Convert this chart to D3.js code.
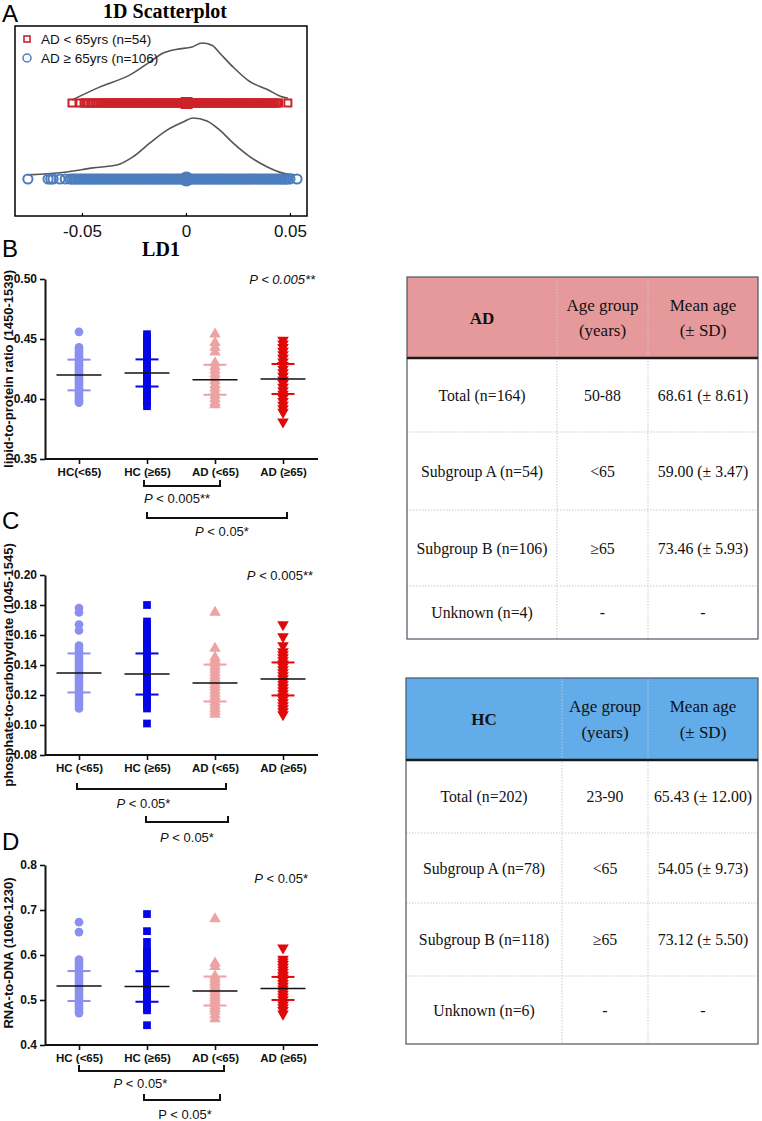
<!DOCTYPE html>
<html><head><meta charset="utf-8">
<script src="https://cdn.jsdelivr.net/npm/d3@7"></script>
<style>body{margin:0;background:#fff}svg{display:block}</style>
</head><body>
<svg id="c" width="762" height="1121"></svg>
<script>
// ---------------- DATA ----------------
// Panel A: 1D scatterplot of LD1
const ldTicks = [-0.05, 0, 0.05];
const adYoungLD = [-0.0548,-0.0510,-0.0490,-0.0482,-0.0470,-0.0458,-0.0447,-0.0436,-0.0424,-0.0414,
  -0.0405,-0.0396,-0.0387,-0.0378,-0.0369,-0.0360,-0.0351,-0.0342,-0.0333,-0.0324,-0.0315,-0.0306,-0.0297,-0.0288,-0.0279,-0.0270,-0.0261,-0.0252,-0.0243,-0.0234,-0.0225,-0.0216,-0.0207,-0.0198,-0.0189,-0.0180,-0.0171,-0.0162,-0.0153,-0.0144,-0.0135,-0.0126,-0.0117,-0.0108,-0.0099,-0.0090,-0.0081,-0.0072,-0.0063,-0.0054,-0.0045,-0.0036,-0.0027,-0.0018,-0.0009,0.0000,0.0009,0.0018,0.0027,0.0036,0.0045,0.0054,0.0063,0.0072,0.0081,0.0090,0.0099,0.0108,0.0117,0.0126,0.0135,0.0144,0.0153,0.0162,0.0171,0.0180,0.0189,0.0198,0.0207,0.0216,0.0225,0.0234,0.0243,0.0252,0.0261,0.0270,0.0279,0.0288,0.0297,0.0306,0.0315,0.0324,0.0333,0.0342,0.0351,0.0360,0.0369,0.0378,
  0.0387,0.0396,0.0405,0.0416,0.0426,0.0436,0.0445,0.0490];
const adOldLD = [-0.0760,-0.0663,-0.0650,-0.0639,-0.0606,-0.0580,
  -0.0557,-0.0548,-0.0539,-0.0531,-0.0522,-0.0513,-0.0504,-0.0495,-0.0487,-0.0478,-0.0469,-0.0460,-0.0451,-0.0443,-0.0434,-0.0425,-0.0416,-0.0407,-0.0399,-0.0390,-0.0381,-0.0372,-0.0363,-0.0355,-0.0346,-0.0337,-0.0328,-0.0319,-0.0311,-0.0302,-0.0293,-0.0284,-0.0275,-0.0267,-0.0258,-0.0249,-0.0240,-0.0231,-0.0223,-0.0214,-0.0205,-0.0196,-0.0187,-0.0179,-0.0170,-0.0161,-0.0152,-0.0143,-0.0135,-0.0126,-0.0117,-0.0108,-0.0099,-0.0091,-0.0082,-0.0073,-0.0064,-0.0055,-0.0047,-0.0038,-0.0029,-0.0020,-0.0011,-0.0003,0.0006,0.0015,0.0024,0.0033,0.0041,0.0050,0.0059,0.0068,0.0077,0.0085,0.0094,0.0103,0.0112,0.0121,0.0129,0.0138,0.0147,0.0156,0.0165,0.0173,0.0182,0.0191,0.0200,0.0209,0.0217,0.0226,0.0235,0.0244,0.0253,0.0261,0.0270,0.0279,0.0288,0.0297,0.0305,0.0314,0.0323,0.0332,0.0341,0.0349,0.0358,0.0367,0.0376,0.0385,0.0393,0.0402,0.0411,0.0420,0.0429,0.0437,0.0446,0.0455,0.0464,0.0473,0.0481,0.0486,
  0.0500,0.0534];
const adYoungMean = 0.0003;
const adOldMean = 0.0002;
// density curves (LD1 position, relative density)
const densYoungX = [-0.0548,-0.0413,-0.0269,-0.0173,-0.0111,-0.0043,0.0029,0.0077,0.0125,0.0163,0.0226,0.0308,0.0389,0.0466,0.0490];
const densYoungD = [0.00,0.23,0.44,0.67,0.82,0.89,0.93,1.00,0.96,0.82,0.58,0.32,0.19,0.05,0.035];
const densOldX = [-0.0760,-0.0572,-0.0447,-0.0332,-0.0255,-0.0173,-0.0091,-0.0014,0.0034,0.0101,0.0163,0.0226,0.0308,0.0389,0.0466,0.0524];
const densOldD = [0.02,0.07,0.14,0.19,0.33,0.57,0.79,0.93,1.00,0.95,0.79,0.57,0.33,0.16,0.05,0.02];
const legendA = ["AD < 65yrs (n=54)", "AD \u2265 65yrs (n=106)"];

// Panels B-D
const groupsB = ["HC(<65)", "HC (\u226565)", "AD (<65)", "AD (\u226565)"];
const groupsCD = ["HC (<65)", "HC (\u226565)", "AD (<65)", "AD (\u226565)"];

const lipidHCyoung = [0.456,0.443,0.441,0.439,0.437,0.435,0.433,0.431,0.429,0.427,0.425,0.423,0.421,0.419,0.417,0.415,0.413,0.411,0.409,0.407,0.405,0.403,0.401,0.399,0.397];
const lipidHCold   = [0.454,0.451,0.448,0.445,0.442,0.439,0.436,0.433,0.430,0.427,0.424,0.421,0.418,0.415,0.412,0.409,0.406,0.403,0.400,0.397,0.394];
const lipidADyoung = [0.454,0.447,0.443,0.439,0.430,0.427,0.424,0.421,0.418,0.415,0.412,0.409,0.406,0.403,0.400,0.397,0.395];
const lipidADold   = [0.449,0.446,0.443,0.440,0.437,0.434,0.431,0.428,0.425,0.422,0.419,0.416,0.413,0.410,0.407,0.404,0.401,0.398,0.395,0.392,0.389,0.381];
const lipidMean = [0.4200,0.4217,0.4160,0.4167];
const lipidSD   = [0.0128,0.0113,0.0125,0.0125];
const lipidTicks = [0.35,0.40,0.45,0.50];

const phosHCyoung = [0.178,0.175,0.167,0.163,0.153,0.151,0.149,0.147,0.145,0.143,0.141,0.139,0.137,0.135,0.133,0.131,0.129,0.127,0.125,0.123,0.121,0.119,0.117,0.115,0.113,0.111];
const phosHCold   = [0.180,0.169,0.167,0.165,0.163,0.161,0.159,0.157,0.155,0.153,0.151,0.149,0.147,0.145,0.143,0.141,0.139,0.137,0.135,0.133,0.131,0.129,0.127,0.125,0.123,0.121,0.119,0.117,0.115,0.113,0.111,0.101];
const phosADyoung = [0.175,0.151,0.145,0.143,0.141,0.139,0.137,0.135,0.133,0.131,0.129,0.127,0.125,0.123,0.121,0.119,0.117,0.115,0.113,0.111,0.109,0.107];
const phosADold   = [0.167,0.159,0.153,0.149,0.147,0.145,0.143,0.141,0.139,0.137,0.135,0.133,0.131,0.129,0.127,0.125,0.123,0.121,0.119,0.117,0.115,0.113,0.111,0.109,0.107];
const phosMean = [0.1347,0.1340,0.1280,0.1307];
const phosSD   = [0.0130,0.0137,0.0123,0.0110];
const phosTicks = [0.08,0.10,0.12,0.14,0.16,0.18,0.20];

const rnaHCyoung = [0.673,0.651,0.590,0.584,0.578,0.572,0.566,0.560,0.554,0.548,0.542,0.536,0.530,0.524,0.518,0.512,0.506,0.500,0.494,0.488,0.482,0.476,0.471];
const rnaHCold   = [0.691,0.653,0.629,0.613,0.607,0.601,0.595,0.589,0.583,0.577,0.571,0.565,0.559,0.553,0.547,0.541,0.535,0.529,0.523,0.517,0.511,0.505,0.499,0.493,0.487,0.481,0.477,0.444];
const rnaADyoung = [0.680,0.582,0.574,0.553,0.547,0.541,0.535,0.529,0.523,0.517,0.511,0.505,0.499,0.493,0.487,0.481,0.475,0.467,0.458];
const rnaADold   = [0.616,0.591,0.585,0.579,0.573,0.567,0.561,0.555,0.549,0.543,0.537,0.531,0.525,0.519,0.513,0.507,0.501,0.495,0.489,0.483,0.477,0.469];
const rnaMean = [0.5310,0.5300,0.5200,0.5257];
const rnaSD   = [0.0333,0.0339,0.0322,0.0256];
const rnaTicks = [0.4,0.5,0.6,0.7,0.8];

// significance annotations: [group index 1, group index 2, p text]
const sigB = [[1,2,"0.005**"],[1,3,"0.05*"]];
const sigC = [[0,2,"0.05*"],[1,2,"0.05*"]];
const sigD = [[0,2,"0.05*"],[1,2,"0.05*"]];

// tables
const tableHeader = ["Age group|(years)", "Mean age|(\u00b1 SD)"];
const adRows = [["Total (n=164)","50-88","68.61 (\u00b1 8.61)"],["Subgroup A (n=54)","<65","59.00 (\u00b1 3.47)"],["Subgroup B (n=106)","\u226565","73.46 (\u00b1 5.93)"],["Unknown (n=4)","-","-"]];
const hcRows = [["Total (n=202)","23-90","65.43 (\u00b1 12.00)"],["Subgroup A (n=78)","<65","54.05 (\u00b1 9.73)"],["Subgroup B (n=118)","\u226565","73.12 (\u00b1 5.50)"],["Unknown (n=6)","-","-"]];

// ---------------- DRAWING ----------------
const svg = d3.select("#c");
const SANS = "'Liberation Sans', Arial, Helvetica, sans-serif";
const SERIF = "'Liberation Serif', 'Times New Roman', serif";

// ===== Panel A =====
const red = "#cc2229", blue = "#4d7dbd";
const xA = d3.scaleLinear().domain([-0.0822, 0.0582]).range([15, 307]);
const rowYoung = 103, rowOld = 179;
const dYoung = d3.scaleLinear().domain([0,1]).range([100,43]);
const dOld = d3.scaleLinear().domain([0,1]).range([176,118]);

svg.append("text").attr("x",2).attr("y",22).attr("font-family",SANS).attr("font-size",24).text("A");
svg.append("text").attr("x",165).attr("y",18).attr("text-anchor","middle").attr("font-family",SERIF)
  .attr("font-weight","bold").attr("font-size",20).text("1D Scatterplot");

const gA = svg.append("g");
const lineA = d3.line().curve(d3.curveMonotoneX);
gA.append("path").attr("d", lineA(densYoungX.map((v,i)=>[xA(v), dYoung(densYoungD[i])])))
  .attr("fill","none").attr("stroke","#555").attr("stroke-width",1.6);
gA.append("path").attr("d", lineA(densOldX.map((v,i)=>[xA(v), dOld(densOldD[i])])))
  .attr("fill","none").attr("stroke","#555").attr("stroke-width",1.6);

gA.selectAll(".ry").data(adYoungLD).join("rect")
  .attr("x", d=>xA(d)-3.5).attr("y", rowYoung-3.5).attr("width",7).attr("height",7)
  .attr("fill","none").attr("stroke",red).attr("stroke-width",2);
gA.append("rect").attr("x",xA(adYoungMean)-6).attr("y",rowYoung-6).attr("width",12).attr("height",12).attr("fill",red);

gA.selectAll(".bo").data(adOldLD).join("circle")
  .attr("cx", d=>xA(d)).attr("cy", rowOld).attr("r",4.6)
  .attr("fill","none").attr("stroke",blue).attr("stroke-width",2);
gA.append("circle").attr("cx",xA(adOldMean)).attr("cy",rowOld).attr("r",7.5).attr("fill",blue);

// box
gA.append("rect").attr("x",15).attr("y",26).attr("width",292).attr("height",190)
  .attr("fill","none").attr("stroke","#000").attr("stroke-width",1.5);
const axA = gA.append("g").attr("transform","translate(0,216)")
  .call(d3.axisBottom(xA).tickValues(ldTicks).tickSize(-3).tickSizeOuter(0).tickPadding(9)
    .tickFormat(d => d === 0 ? "0" : d.toFixed(2)));
axA.select(".domain").remove();
axA.selectAll("text").attr("font-family",SANS).attr("font-size",17).attr("fill","#111");
axA.selectAll("line").attr("stroke","#000").attr("stroke-width",1.2);
svg.append("text").attr("x",161).attr("y",256).attr("text-anchor","middle").attr("font-family",SERIF)
  .attr("font-weight","bold").attr("font-size",20).text("LD1");

// legend
gA.append("rect").attr("x",24).attr("y",36).attr("width",6).attr("height",6).attr("fill","none").attr("stroke",red).attr("stroke-width",1.6);
gA.append("circle").attr("cx",27).attr("cy",58).attr("r",4).attr("fill","none").attr("stroke",blue).attr("stroke-width",1.5);
gA.append("text").attr("x",41).attr("y",44).attr("font-family",SANS).attr("font-size",13.5).attr("fill","#111").text(legendA[0]);
gA.append("text").attr("x",41).attr("y",63).attr("font-family",SANS).attr("font-size",13.5).attr("fill","#111").text(legendA[1]);

// ===== Panels B-D =====
const groupColors = ["#8b8ff0", "#0505e6", "#eda2a4", "#e00808"];
const shapes = ["circle","square","triangle","triangleDown"];
function marker(shape){
  if (shape === "circle") return d3.symbol().type(d3.symbolCircle).size(60)();
  if (shape === "square") return d3.symbol().type(d3.symbolSquare).size(60)();
  return d3.symbol().type(d3.symbolTriangle).size(58)();
}

function pText(sel, x, y, anchor, rest, allItalic, italicP){
  const t = sel.append("text").attr("x",x).attr("y",y).attr("text-anchor",anchor)
    .attr("font-family",SANS).attr("font-size",13).attr("fill","#111");
  if (allItalic) t.attr("font-style","italic");
  t.append("tspan").attr("font-style", (italicP||allItalic) ? "italic" : "normal").text("P");
  t.append("tspan").text(" < " + rest);
  return t;
}

function panel(cfg){
  const g = svg.append("g");
  const x = d3.scalePoint().domain(d3.range(4)).range([79,283]);
  const y = d3.scaleLinear().domain(cfg.domain).range([cfg.yBottom, cfg.yTop]);
  g.append("text").attr("x",2).attr("y",cfg.letterY).attr("font-family",SANS).attr("font-size",24).text(cfg.letter);
  g.append("text").attr("transform",`translate(13,${(cfg.yBottom+cfg.yTop)/2 + cfg.titleShift}) rotate(-90)`)
    .attr("text-anchor","middle").attr("font-family",SANS).attr("font-weight","bold").attr("font-size",13)
    .attr("fill","#111").text(cfg.title);
  cfg.series.forEach((vals, i) => {
    const sh = shapes[i];
    g.selectAll(null).data(vals).join("path")
      .attr("d", marker(sh))
      .attr("transform", d => `translate(${x(i)},${y(d)})` + (sh === "triangleDown" ? " rotate(180)" : ""))
      .attr("fill", groupColors[i]);
    [cfg.mean[i]-cfg.sd[i], cfg.mean[i]+cfg.sd[i]].forEach(v => {
      g.append("line").attr("x1",x(i)-11.5).attr("x2",x(i)+11.5).attr("y1",y(v)).attr("y2",y(v))
        .attr("stroke",groupColors[i]).attr("stroke-width",2);
    });
    g.append("line").attr("x1",x(i)-22.5).attr("x2",x(i)+22.5).attr("y1",y(cfg.mean[i])).attr("y2",y(cfg.mean[i]))
      .attr("stroke","#111").attr("stroke-width",1.6);
  });
  const ay = g.append("g").attr("transform","translate(45,0)")
    .call(d3.axisLeft(y).tickValues(cfg.ticks).tickFormat(d3.format(cfg.fmt)).tickSize(5).tickSizeOuter(0).tickPadding(3));
  const ax = g.append("g").attr("transform",`translate(0,${cfg.yBottom})`)
    .call(d3.axisBottom(x).tickFormat(i => cfg.labels[i]).tickSize(5).tickSizeOuter(0).tickPadding(4));
  ax.select(".domain").attr("d", `M45,0H318`);
  [ay, ax].forEach(a => {
    a.select(".domain").attr("stroke","#111").attr("stroke-width",2);
    a.selectAll(".tick line").attr("stroke","#111").attr("stroke-width",1.6);
    a.selectAll("text").attr("font-family",SANS).attr("font-weight","bold").attr("font-size",12).attr("fill","#111");
  });
  ax.selectAll("text").attr("font-size",11.5);
  pText(g, cfg.pX, cfg.pY, "end", cfg.pMain, cfg.pAllItalic, true);
  cfg.sig.forEach((s, k) => {
    const L = cfg.brackets[k];
    const x1 = x(s[0]) + L.dx1, x2 = x(s[1]) + L.dx2;
    g.append("path").attr("d", `M${x1},${L.y-6}V${L.y}H${x2}V${L.y-6}`)
      .attr("fill","none").attr("stroke","#111").attr("stroke-width",2);
    pText(g, (x1+x2)/2 + L.tdx, L.y + L.tdy, "middle", s[2], false, L.italic);
  });
}

panel({letter:"B", letterY:257, domain:[0.35,0.50], yBottom:459, yTop:279, ticks:lipidTicks, fmt:".2f",
  title:"lipid-to-protein ratio (1450-1539)", titleShift:0, labels:groupsB,
  series:[lipidHCyoung,lipidHCold,lipidADyoung,lipidADold], mean:lipidMean, sd:lipidSD,
  pX:315, pY:284, pMain:"0.005**", pAllItalic:true, sig:sigB,
  brackets:[{dx1:-3,dx2:5,y:486,tdx:-5,tdy:17,italic:true},{dx1:0,dx2:4,y:518,tdx:5,tdy:18,italic:true}]});

panel({letter:"C", letterY:529, domain:[0.08,0.20], yBottom:755, yTop:575, ticks:phosTicks, fmt:".2f",
  title:"phosphate-to-carbohydrate (1045-1545)", titleShift:0, labels:groupsCD,
  series:[phosHCyoung,phosHCold,phosADyoung,phosADold], mean:phosMean, sd:phosSD,
  pX:313, pY:580, pMain:"0.005**", pAllItalic:false, sig:sigC,
  brackets:[{dx1:-2,dx2:11,y:789,tdx:-8,tdy:19,italic:true},{dx1:-1,dx2:13,y:822,tdx:0,tdy:20,italic:true}]});

panel({letter:"D", letterY:850, domain:[0.4,0.8], yBottom:1045, yTop:865, ticks:rnaTicks, fmt:".1f",
  title:"RNA-to-DNA (1060-1230)", titleShift:-2, labels:groupsCD,
  series:[rnaHCyoung,rnaHCold,rnaADyoung,rnaADold], mean:rnaMean, sd:rnaSD,
  pX:308, pY:883, pMain:"0.05*", pAllItalic:false, sig:sigD,
  brackets:[{dx1:0,dx2:9,y:1071,tdx:-11,tdy:17,italic:true},{dx1:-3,dx2:5,y:1100,tdx:3,tdy:19,italic:false}]});

// ===== Tables =====
function table(cfg){
  const g = svg.append("g");
  const xs = [cfg.left, ...cfg.cols, cfg.right];
  const ys = [cfg.headBottom, ...cfg.rowLines, cfg.bottom];
  g.append("rect").attr("x",cfg.left).attr("y",cfg.top).attr("width",cfg.right-cfg.left).attr("height",cfg.headBottom-cfg.top).attr("fill",cfg.color);
  cfg.cols.forEach(c => g.append("line").attr("x1",c).attr("x2",c).attr("y1",cfg.top).attr("y2",cfg.bottom)
    .attr("stroke","#c9c9c9").attr("stroke-width",1).attr("stroke-dasharray","1.5,1.5"));
  cfg.rowLines.forEach(r => g.append("line").attr("x1",cfg.left).attr("x2",cfg.right).attr("y1",r).attr("y2",r)
    .attr("stroke","#c9c9c9").attr("stroke-width",1).attr("stroke-dasharray","1.5,1.5"));
  g.append("rect").attr("x",cfg.left).attr("y",cfg.top).attr("width",cfg.right-cfg.left).attr("height",cfg.bottom-cfg.top)
    .attr("fill","none").attr("stroke","#4a5566").attr("stroke-width",1.2);
  g.append("line").attr("x1",cfg.left).attr("x2",cfg.right).attr("y1",cfg.headBottom).attr("y2",cfg.headBottom)
    .attr("stroke","#1a1a1a").attr("stroke-width",2.5);
  const cx = i => (xs[i]+xs[i+1])/2;
  const hy = (cfg.top + cfg.headBottom)/2;
  g.append("text").attr("x",cx(0)).attr("y",hy+6).attr("text-anchor","middle").attr("font-family",SERIF)
    .attr("font-weight","bold").attr("font-size",17).attr("fill","#111").text(cfg.name);
  tableHeader.forEach((h, i) => {
    const parts = h.split("|");
    parts.forEach((p, j) => g.append("text").attr("x",cx(i+1)).attr("y",hy - 7 + j*25.5).attr("text-anchor","middle")
      .attr("font-family",SERIF).attr("font-size",17).attr("fill","#111").text(p));
  });
  cfg.rows.forEach((row, r) => {
    const yc = (ys[r]+ys[r+1])/2;
    row.forEach((cell, c) => g.append("text").attr("x",cx(c)).attr("y",yc+5.5).attr("text-anchor","middle")
      .attr("font-family",SERIF).attr("font-size",15.8).attr("fill","#111").text(cell));
  });
}
table({name:"AD", rows:adRows, color:"#e6999b", left:407, right:758, top:277, headBottom:358, rowLines:[432,510,586], bottom:639, cols:[557,648]});
table({name:"HC", rows:hcRows, color:"#62ace9", left:406, right:758, top:678, headBottom:760, rowLines:[833,903,976], bottom:1044, cols:[562,648]});
</script>
</body></html>
